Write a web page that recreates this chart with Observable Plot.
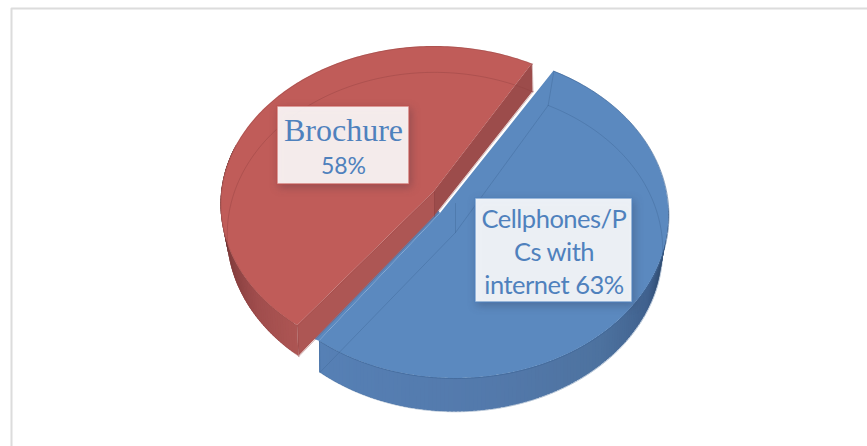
<!DOCTYPE html>
<html><head><meta charset="utf-8">
<script src="https://cdn.jsdelivr.net/npm/d3@7"></script>
<script src="https://cdn.jsdelivr.net/npm/@observablehq/plot@0.6"></script>
<style>html,body{margin:0;padding:0;background:#fff}svg{display:block}.tight text{letter-spacing:-.5px}</style>
</head><body><div id="chart"></div>
<script>
const categories = ["Cellphones/PCs with internet", "Brochure"];
const values = [63, 58];
const labelLines = [["Cellphones/P", "Cs with", "internet 63%"], ["Brochure", "58%"]];
const topColors = ["#5b89bf", "#c05c59"];
const startBearing = 29.5;
const total = d3.sum(values);
const spans = values.map(v => v / total * 360);

const centers = [[455, 203], [434, 191]];
const fillHubs = [[440, 213], [434, 191]];
const topPlanes = [{dy: 0, B: 161.9, k: 0.075, R: 212.8}, {dy: 0, B: 156.9, k: 0.0823, R: 212.8}];
const basePlanes = [{dy: 29, B: 159.8, k: 0.1086, R: 206}, {dy: 25, B: 159.8, k: 0.1086, R: 206}];
const redBaseTipSkew = 2;
function project(c, deg, plane, r = 1) {
  const t = deg * Math.PI / 180, u = r * Math.sin(t), v = -r * Math.cos(t);
  const w = 1 - plane.k * v;
  return [c[0] + plane.R * u / w, c[1] + plane.dy + plane.B * v / w];
}
const slices = [
  {i: 0, a0: startBearing, a1: startBearing + spans[0]},
  {i: 1, a0: startBearing + spans[0], a1: startBearing + 360}
];
const arcDegs = s => d3.range(s.a0, s.a1, 1).concat([s.a1]);
const baseEnd = s => s.a1 + (s.i === 1 ? redBaseTipSkew : 0);

const sideRows = [], topRows = [], faceRows = [];
const sideRamps = [
  d3.scaleLinear().domain([100, 118, 140, 170, 216]).range(["#263f60", "#40618e", "#4d729f", "#5379ab", "#5680b5"]).clamp(true),
  d3.scaleLinear().domain([216, 232, 248, 262, 278]).range(["#ad5553", "#a04d4d", "#863f3f", "#612d2d", "#3d1b1b"]).clamp(true)
];
for (const s of slices) {
  const c = centers[s.i], hub = fillHubs[s.i], degs = arcDegs(s);
  // every strip overlaps the next one so that no hairline seam shows
  for (let j = 0; j < degs.length - 1; j++) {
    const d = degs[j], n = ((d % 360) + 360) % 360;
    if (n < 90 || n > 285) continue;
    const fill = sideRamps[s.i](n), z = `${s.i}-${j}`;
    for (const a of [d, Math.min(d + 2.5, s.a1)]) {
      const p = project(c, a, topPlanes[s.i]), q = project(c, a, basePlanes[s.i]);
      sideRows.push({x1: p[0], y1: p[1], x2: q[0], y2: q[1], z, fill, order: s.i});
    }
  }
  for (const a of degs) {
    const p = project(c, a, topPlanes[s.i]);
    topRows.push({x1: p[0], y1: p[1], x2: hub[0], y2: hub[1], z: s.i, fill: topColors[s.i]});
  }
}
// the blue surface runs on under the red slice's front face, so no gap opens there
const blueCorner = project(centers[0], slices[0].a1, topPlanes[0]);
const underRed = [
  {x1: 438, y1: 210, x2: fillHubs[0][0], y2: fillHubs[0][1], z: "under", fill: topColors[0]},
  {x1: 306, y1: 336, x2: blueCorner[0], y2: blueCorner[1], z: "under", fill: topColors[0]}
];
const redFaceColors = ["#ad5654", "#9c4c4b"];
[[slices[1].a0, slices[1].a0, 0], [slices[1].a1, baseEnd(slices[1]), 1]].forEach(([deg, baseDeg, k]) => {
  const c = centers[1], p = project(c, deg, topPlanes[1]), q = project(c, baseDeg, basePlanes[1]);
  const ci = project(c, 0, basePlanes[1], 0);
  faceRows.push({x1: p[0], y1: p[1], x2: q[0], y2: q[1], z: k, fill: redFaceColors[k]});
  faceRows.push({x1: c[0], y1: c[1], x2: ci[0], y2: ci[1], z: k, fill: redFaceColors[k]});
});
function outline(s) {
  const c = centers[s.i], bp = basePlanes[s.i], tp = topPlanes[s.i], ci = project(c, 0, bp, 0), out = [];
  const add = (pts, id) => pts.forEach(p => out.push({x: p[0], y: p[1], id: `${s.i}${id}`, i: s.i}));
  const tip = baseEnd(s);
  add(arcDegs(s).map(a => project(c, a, bp)).concat([project(c, tip, bp)]), "base");
  add([project(c, s.a0, bp), ci, project(c, tip, bp)], "spoke");
  add([c, ci], "hub");
  add([project(c, s.a0, tp), project(c, s.a0, bp)], "e0");
  add([project(c, s.a1, tp), project(c, tip, bp)], "e1");
  return out;
}
const glassLines = slices.flatMap(outline);
const rimLines = slices.flatMap(s => arcDegs(s).map(a => {
  const p = project(centers[s.i], a, topPlanes[s.i]);
  return {x: p[0], y: p[1], i: s.i};
}));
const redEdge = [project(centers[1], slices[1].a0, topPlanes[1]), centers[1], project(centers[1], slices[1].a1, topPlanes[1])]
  .map(p => ({x: p[0], y: p[1]}));

const boxes = [
  {x1: 475, x2: 632, y1: 198, y2: 302, edge: "#4f81bd"},
  {x1: 277, x2: 409, y1: 106, y2: 184, edge: "#c0504d"}
];
const lato = [
  {t: labelLines[0][0], x: 553.5, y: 219, size: 25.5},
  {t: labelLines[0][1], x: 553.5, y: 252, size: 25.5},
  {t: labelLines[0][2], x: 553.5, y: 285, size: 25.5}
];
const latoSmall = [{t: labelLines[1][1], x: 343, y: 166, size: 23}];
const serif = [{t: labelLines[1][0], x: 343, y: 130, size: 32}];
const frame = [{x: 11, y: 446}, {x: 11, y: 8}, {x: 867, y: 8}];

const blue = 0, red = 1;
const layerArea = (rows, opts = {}) => Plot.area(rows, {x1: "x1", y1: "y1", x2: "x2", y2: "y2", z: "z", fill: "fill", ...opts});

const plot = Plot.plot({
  width: 867, height: 446, margin: 0,
  x: {domain: [0, 867], range: [0, 867], axis: null},
  y: {domain: [0, 446], range: [0, 446], axis: null},
  marks: [
    Plot.line(frame, {x: "x", y: "y", stroke: "#dcdcdc", strokeWidth: 2}),
    // blue slice
    layerArea(sideRows.filter(d => d.order === blue)),
    layerArea(topRows.filter(d => d.z === blue)),
    layerArea(underRed),
    Plot.line(glassLines.filter(d => d.i === blue), {x: "x", y: "y", z: "id", stroke: "#3f6797", strokeOpacity: 0.5, strokeWidth: 0.8}),
    Plot.line(rimLines.filter(d => d.i === blue), {x: "x", y: "y", stroke: "#3f6797", strokeOpacity: 0.8, strokeWidth: 0.8}),
    // red slice, in front of the blue one
    layerArea(sideRows.filter(d => d.order === red)),
    layerArea(topRows.filter(d => d.z === red)),
    layerArea(faceRows),
    Plot.line(glassLines.filter(d => d.i === red), {x: "x", y: "y", z: "id", stroke: "#8c3f3e", strokeOpacity: 0.45, strokeWidth: 0.8}),
    Plot.line(redEdge, {x: "x", y: "y", stroke: "#a84a48", strokeOpacity: 0.8, strokeWidth: 0.8}),
    Plot.line(rimLines.filter(d => d.i === red), {x: "x", y: "y", stroke: "#8c4543", strokeOpacity: 0.45, strokeWidth: 0.8}),
    // labels
    Plot.rect(boxes, {x1: "x1", x2: "x2", y1: "y1", y2: "y2", fill: "#fff", fillOpacity: 0.89, stroke: "edge", strokeOpacity: 0.7, strokeWidth: 1.5,
      imageFilter: "drop-shadow(2px 3px 4px rgba(40,40,60,.3))"}),
    Plot.text(lato, {x: "x", y: "y", text: "t", fontSize: "size", fontFamily: "Lato", fill: "#4f81bd", textAnchor: "middle", lineAnchor: "middle", className: "tight"}),
    Plot.text(latoSmall, {x: "x", y: "y", text: "t", fontSize: "size", fontFamily: "Lato", fill: "#4f81bd", textAnchor: "middle", lineAnchor: "middle"}),
    Plot.text(serif, {x: "x", y: "y", text: "t", fontSize: "size", fontFamily: "Liberation Serif", fill: "#4f81bd", textAnchor: "middle", lineAnchor: "middle"})
  ]
});
document.getElementById("chart").append(plot);
</script></body></html>
